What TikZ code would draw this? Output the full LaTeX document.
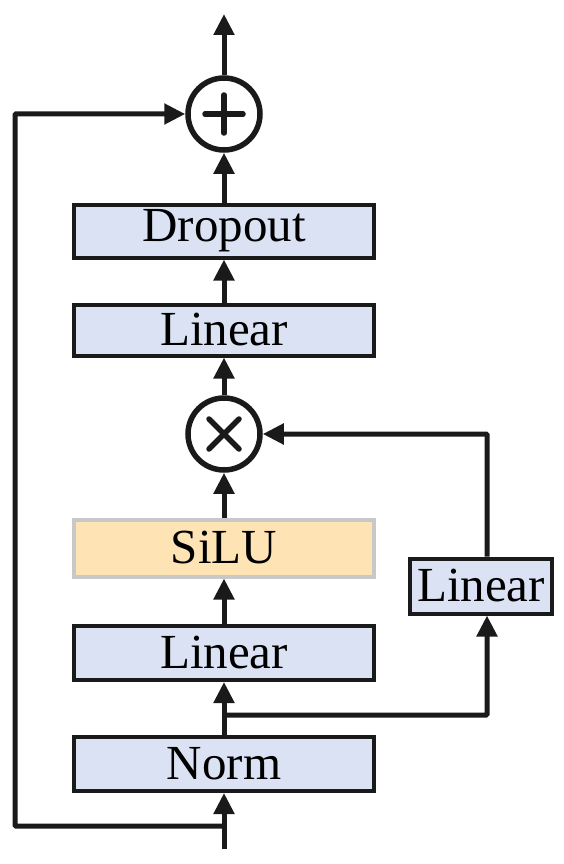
\documentclass[tikz,border=0pt]{standalone}
\usepackage{fontspec}
\setmainfont{Liberation Serif}
\usetikzlibrary{arrows.meta}
\definecolor{boxblue}{HTML}{DAE2F3}
\definecolor{boxorange}{HTML}{FEE3B4}
\definecolor{silugray}{HTML}{C8C8C8}
\definecolor{ink}{HTML}{1A1A1A}
\tikzset{
  blk/.style={draw=ink, line width=4pt, fill=boxblue, minimum width=300pt, inner sep=0pt,
    font=\fontsize{49}{51}\selectfont, text=black},
  opnode/.style={circle, draw=ink, line width=5.5pt, minimum size=72pt, inner sep=0pt, fill=white},
  arr/.style={draw=ink, line width=5pt, -{Triangle[length=21pt,width=20pt]}},
  sym/.style={draw=ink, line width=5.5pt, line cap=round}
}
\begin{document}
\begin{tikzpicture}[x=1pt,y=-1pt]
\useasboundingbox (0,0) rectangle (564,864);
% nodes
\node[opnode] (plus) at (224,114) {};
\node[blk, minimum height=53pt] (drop) at (224,231) {Dropout};
\node[blk, minimum height=51pt] (lin1) at (224,330) {Linear};
\node[opnode] (times) at (224,434) {};
\node[blk, minimum height=57pt, fill=boxorange, draw=silugray] (silu) at (224,548) {SiLU};
\node[blk, minimum height=54pt] (lin2) at (224,653) {Linear};
\node[blk, minimum height=54pt] (norm) at (224,764) {Norm};
\node[blk, minimum width=142pt, minimum height=55pt] (lin3) at (481,586) {Linear};
% coordinates
\coordinate (in) at (224,849);
\coordinate (b1) at (224,826);
\coordinate (b2) at (224,715);
\coordinate (lx) at (15,0);
\coordinate (rx) at (487,0);
\coordinate (out) at (224,14);
% symbols
\draw[sym] ([xshift=-19pt]plus.center) -- ([xshift=19pt]plus.center);
\draw[sym] ([yshift=-19pt]plus.center) -- ([yshift=19pt]plus.center);
\draw[sym] ([xshift=-15pt,yshift=-15pt]times.center) -- ([xshift=15pt,yshift=15pt]times.center);
\draw[sym] ([xshift=-15pt,yshift=15pt]times.center) -- ([xshift=15pt,yshift=-15pt]times.center);
% connectors
\draw[arr] (in) -- (norm.south);
\draw[arr] (norm.north) -- (lin2.south);
\draw[arr, rounded corners=1pt] (b2) -- (b2 -| rx) -- (rx |- lin3.south);
\draw[arr] (lin2.north) -- (silu.south);
\draw[arr] (silu.north) -- (times.south);
\draw[arr, rounded corners=1pt] (rx |- lin3.north) -- (rx |- times.east) -- (times.east);
\draw[arr] (times.north) -- (lin1.south);
\draw[arr] (lin1.north) -- (drop.south);
\draw[arr] (drop.north) -- (plus.south);
\draw[arr] (plus.north) -- (out);
\draw[arr, rounded corners=1pt] (b1) -- (b1 -| lx) -- (lx |- plus.west) -- (plus.west);
\end{tikzpicture}
\end{document}
